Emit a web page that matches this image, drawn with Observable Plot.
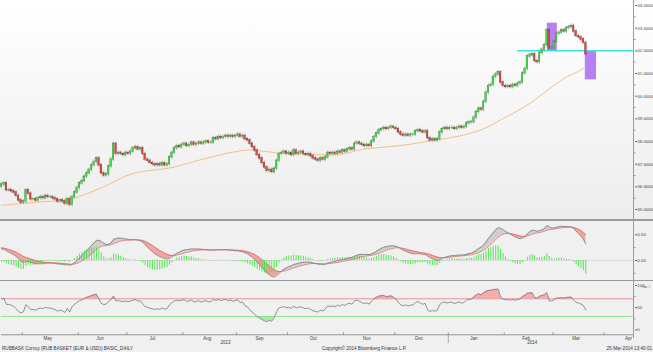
<!DOCTYPE html>
<html><head><meta charset="utf-8">
<script src="https://cdn.jsdelivr.net/npm/d3@7"></script>
<script src="https://cdn.jsdelivr.net/npm/@observablehq/plot@0.6"></script>
<style>
body{margin:0;background:#f0f0f0;}
#wrap{position:relative;width:653px;height:352px;overflow:hidden;background:#f0f0f0;font-family:"Liberation Sans",Arial,sans-serif;}
.panel{position:absolute;left:0;}
.panel svg{display:block;overflow:visible;}
.sep{position:absolute;left:0;width:653px;height:1.5px;background:#9a9a9a;}
.vaxis{position:absolute;left:633px;top:0;width:1px;height:338px;background:#9c9c9c;}
.foot{position:absolute;top:345.5px;font-size:4.6px;color:#333;white-space:nowrap;line-height:5px;}
</style></head><body><div id="wrap"></div>
<script>
// ---------- data ----------
const startDate = new Date(2013, 3, 18);   // first trading day shown
const nDays = 260;                          // x domain (weekdays) to Apr 17 2014
const months = ["May","Jun","Jul","Aug","Sep","Oct","Nov","Dec","Jan","Feb","Mar","Apr"];
const years = ["2013","2014"];
const priceTicks = [35,36,37,38,39,40,41,42,43,44];
const macdTicks = [0, 0.5];
const rsiTicks = [0, 50, 100];
const rsiUpper = 70, rsiLower = 30;
const open0 = 36.0;
const closes = [
36.10,36.15,35.85,35.85,35.80,35.75,35.60,35.40,35.30,35.35,
35.85,35.70,35.45,35.45,35.40,35.50,35.55,35.50,35.60,35.55,
35.55,35.50,35.45,35.35,35.40,35.35,35.25,35.45,35.20,35.55,
35.75,35.95,36.15,36.25,36.45,36.60,36.75,36.95,37.10,37.25,
36.95,36.60,36.50,36.55,36.90,37.20,37.90,37.45,37.50,37.45,
37.40,37.50,37.45,37.55,37.70,37.75,37.65,37.70,37.45,37.20,
37.15,37.05,37.00,36.95,37.00,36.95,37.05,36.95,37.00,37.30,
37.50,37.70,37.80,37.75,37.85,37.90,37.80,37.85,37.95,37.85,
37.90,37.95,37.90,37.95,38.00,37.95,37.95,38.15,38.10,38.20,
38.15,38.20,38.25,38.20,38.25,38.20,38.25,38.30,38.20,38.25,
38.10,38.05,37.90,37.75,37.60,37.40,37.25,37.05,36.85,36.70,
36.75,36.65,36.80,37.15,37.45,37.50,37.55,37.45,37.50,37.40,
37.60,37.45,37.50,37.55,37.45,37.40,37.45,37.35,37.25,37.20,
37.15,37.25,37.20,37.30,37.50,37.45,37.50,37.45,37.55,37.50,
37.60,37.55,37.65,37.70,37.65,37.90,37.95,37.90,37.85,37.80,
37.85,37.80,38.00,38.20,38.35,38.50,38.55,38.60,38.55,38.60,
38.65,38.60,38.55,38.40,38.30,38.25,38.30,38.25,38.30,38.30,
38.45,38.50,38.45,38.40,38.45,38.15,38.05,38.10,38.05,38.10,
38.40,38.55,38.60,38.55,38.60,38.60,38.55,38.60,38.65,38.60,
38.65,38.80,38.85,38.85,39.05,39.30,39.45,39.40,39.75,40.15,
40.45,40.50,40.85,40.95,41.05,40.60,40.45,40.40,40.45,40.40,
40.50,40.45,40.55,40.60,41.00,41.20,41.75,41.80,41.85,41.55,
41.50,41.90,42.05,42.25,42.90,42.10,42.15,42.40,42.75,42.80,
42.90,42.85,43.00,43.05,43.10,42.85,42.65,42.60,42.50,42.35,
41.85];
const wick = 0.08;
// 50-day moving average (trading-day index, value)
const maIdx = [0,14,27,41,54,61,68,82,95,102,109,116,123,136,150,164,177,191,198,205,212,218,225,232,237,240];
const maVal = [35.18,35.32,35.43,35.96,36.59,36.72,36.81,37.20,37.53,37.63,37.55,37.47,37.45,37.41,37.68,37.82,38.04,38.32,38.56,38.95,39.35,39.75,40.33,40.84,41.09,41.28];
// annotations
const supportLevel = 42.0, supportFrom = 212;
const boxFrom = [224.2, 239.8], boxTo = [228.3, 244.4], boxHigh = [43.22, 42.0], boxLow = [41.98, 40.72];
// indicator state carried in from before the window
const ema12Seed = 35.98, ema26Seed = 35.75, signalSeed = 0.25, gainSeed = 0.07, lossSeed = 0.03;
const histScale = 1.5;   // Bloomberg draws the MACD histogram enlarged

// ---------- derived ----------
const ohlc = closes.map((c, i) => {
  const o = i === 0 ? open0 : closes[i - 1];
  return {i, open: o, close: c, high: Math.max(o, c) + wick, low: Math.min(o, c) - wick};
});
let e12 = ema12Seed, e26 = ema26Seed, sig = signalSeed, ag = gainSeed, al = lossSeed;
const ind = closes.map((c, i) => {
  e12 += (c - e12) * 2 / 13; e26 += (c - e26) * 2 / 27;
  const m = e12 - e26; sig += (m - sig) * 2 / 10;
  if (i > 0) { const ch = c - closes[i - 1]; ag = (ag * 13 + Math.max(ch, 0)) / 14; al = (al * 13 + Math.max(-ch, 0)) / 14; }
  return {i, macd: m, signal: sig, hist: (m - sig) * histScale, rsi: 100 - 100 / (1 + ag / al)};
});
const ma = maIdx.map((i, k) => ({i, v: maVal[k]}));
const boxes = boxFrom.map((x1, k) => ({x1, x2: boxTo[k], y1: boxLow[k], y2: boxHigh[k]}));

// weekday calendar -> month starts
const dates = [];
for (let d = new Date(startDate); dates.length < 275; d.setDate(d.getDate() + 1)) {
  const w = d.getDay(); if (w !== 0 && w !== 6) dates.push(new Date(d));
}
const mStarts = [];
for (let i = 1; i < dates.length; i++) if (dates[i].getMonth() !== dates[i - 1].getMonth()) mStarts.push(i);
const monthTicks = mStarts.slice(0, months.length).map(i => i - 0.5);
const monthLabels = months.map((m, k) => ({m, x: (mStarts[k] + mStarts[k + 1]) / 2 - 1.5}));
const jan = mStarts[8];
const yearLabels = [{t: years[0], x: (0 + jan) / 2}, {t: years[1], x: (jan + mStarts[11] + 4) / 2}];

// ---------- layout ----------
const wrap = document.getElementById("wrap");
const W = 653, FONT = "Liberation Sans, Arial, sans-serif";
const xCfg = {domain: [0, nDays], axis: null};
function place(svg, top, bg) {
  const div = document.createElement("div");
  div.className = "panel"; div.style.top = top + "px";
  if (bg) div.style.background = bg;
  div.appendChild(svg); wrap.appendChild(div);
}
const baseStyle = {background: "transparent", fontFamily: FONT, fontSize: "4.4px", color: "#404040", overflow: "visible"};
const axisOpts = (fmt) => ({anchor: "right", tickSize: 2, tickPadding: 0.8, tickFormat: fmt, fontSize: 4.4, stroke: "#666", fill: "#404040"});
const minor = (vals) => Plot.ruleY(vals, {x1: () => nDays, x2: () => nDays + 0.6, stroke: "#777", strokeWidth: 0.8});

// price panel
const price = Plot.plot({
  width: W, height: 219, marginLeft: 1, marginRight: 19, marginTop: 5, marginBottom: 10,
  style: baseStyle, x: xCfg, y: {domain: [35, 44], axis: null},
  marks: [
    Plot.rect(boxes, {x1: "x1", x2: "x2", y1: "y1", y2: "y2", fill: "#b67ff2"}),
    Plot.line(ma, {x: "i", y: "v", stroke: "#f2c088", strokeWidth: 1, curve: "monotone-x"}),
    Plot.ruleY([supportLevel], {x1: () => supportFrom, x2: () => nDays, stroke: "#3fe0ea", strokeWidth: 1.5}),
    Plot.ruleX(ohlc, {x: "i", y1: "low", y2: "high", stroke: "#747474", strokeWidth: 0.6}),
    Plot.rect(ohlc.filter(d => d.close >= d.open), {x1: d => d.i - 0.34, x2: d => d.i + 0.34, y1: "open", y2: "close", fill: "#4ada4a", stroke: "#2f8f2f", strokeWidth: 0.35, insetTop: -0.3, insetBottom: -0.3}),
    Plot.rect(ohlc.filter(d => d.close < d.open), {x1: d => d.i - 0.34, x2: d => d.i + 0.34, y1: "open", y2: "close", fill: "#d94848", stroke: "#8e2b2b", strokeWidth: 0.35, insetTop: -0.3, insetBottom: -0.3}),
    Plot.axisY(priceTicks, axisOpts(d3.format(".4f"))),
    minor(d3.range(35.5, 44, 1))
  ]
});
place(price, 0, "linear-gradient(#ffffff, #ededed)");

// MACD panel
const macd = Plot.plot({
  width: W, height: 60, marginLeft: 1, marginRight: 19, marginTop: 13.3, marginBottom: 21,
  style: baseStyle, x: xCfg, y: {domain: [0, 0.5], axis: null},
  marks: [
    Plot.ruleY([0], {stroke: "#d6d6d6", strokeWidth: 0.8}),
    Plot.areaY(ind, {x: "i", y1: "signal", y2: d => Math.max(d.macd, d.signal), fill: "#cfcfcf"}),
    Plot.areaY(ind, {x: "i", y1: "macd", y2: d => Math.max(d.macd, d.signal), fill: "#f4a3a3"}),
    Plot.ruleX(ind, {x: "i", y1: () => 0, y2: "hist", stroke: "#3ee63e", strokeWidth: 0.9}),
    Plot.lineY(ind, {x: "i", y: "signal", stroke: "#e06464", strokeWidth: 0.8}),
    Plot.lineY(ind, {x: "i", y: "macd", stroke: "#7c7c7c", strokeWidth: 0.8}),
    Plot.axisY(macdTicks, axisOpts(d3.format(".2f"))),
    minor([-0.25, 0.25])
  ]
});
place(macd, 220.5, "#f0f0f0");

// RSI panel
const rsi = Plot.plot({
  width: W, height: 49, marginLeft: 1, marginRight: 19, marginTop: 4, marginBottom: 0.7,
  style: baseStyle, x: xCfg, y: {domain: [0, 100], axis: null},
  marks: [
    Plot.areaY(ind, {x: "i", y1: () => rsiUpper, y2: d => Math.max(d.rsi, rsiUpper), fill: "#f6acac"}),
    Plot.areaY(ind, {x: "i", y1: d => Math.min(d.rsi, rsiLower), y2: () => rsiLower, fill: "#9ef09e"}),
    Plot.ruleY([rsiUpper], {stroke: "#e58989", strokeWidth: 0.9}),
    Plot.ruleY([rsiLower], {stroke: "#84e484", strokeWidth: 0.9}),
    Plot.lineY(ind, {x: "i", y: "rsi", stroke: "#777777", strokeWidth: 0.8}),
    Plot.axisY(rsiTicks, axisOpts(d3.format("d"))),
    minor([25, 75])
  ]
});
place(rsi, 281, "#f0f0f0");

// bottom time axis
const axis = Plot.plot({
  width: W, height: 15, marginLeft: 1, marginRight: 19, marginTop: 0, marginBottom: 0,
  style: baseStyle, x: xCfg, y: {domain: [0, 15], range: [0, 15], axis: null},
  marks: [
    Plot.ruleY([4.3], {x1: () => 0, x2: () => nDays, stroke: "#8a8a8a", strokeWidth: 0.9}),
    Plot.ruleX(monthTicks, {x: d => d, y1: () => 2.4, y2: () => 4.3, stroke: "#666", strokeWidth: 0.7}),
    Plot.ruleX([jan - 0.5], {x: d => d, y1: () => 4.3, y2: () => 13, stroke: "#888", strokeWidth: 0.7}),
    Plot.text(monthLabels, {x: "x", y: () => 7.6, text: "m", fontSize: 4.5, fill: "#404040"}),
    Plot.text(yearLabels, {x: "x", y: () => 12.3, text: "t", fontSize: 4.5, fill: "#404040"})
  ]
});
place(axis, 330, null);

// separators, axis line, footer
[219, 279.5].forEach(t => { const s = document.createElement("div"); s.className = "sep"; s.style.top = t + "px"; wrap.appendChild(s); });
const v = document.createElement("div"); v.className = "vaxis"; wrap.appendChild(v);
const foot = [["RUBBASK Curncy (RUB BASKET (EUR & USD)) BASIC_DAILY", "left:2px"],
              ["Copyright\u00a9 2014 Bloomberg Finance L.P.", "left:322px"],
              ["25-Mar-2014 13:40:01", "right:1px"]];
foot.forEach(([t, pos]) => { const f = document.createElement("div"); f.className = "foot"; f.textContent = t; f.setAttribute("style", pos); wrap.appendChild(f); });
</script></body></html>
